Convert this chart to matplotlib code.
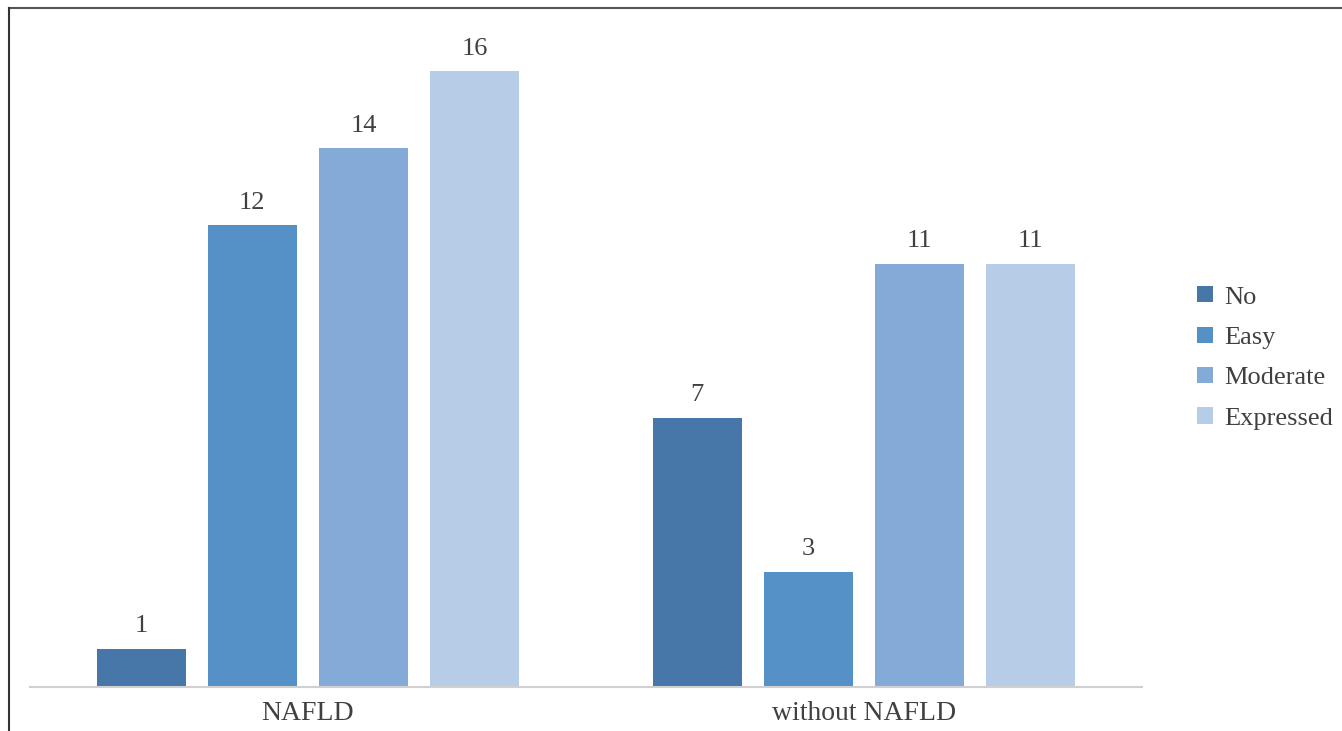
import numpy as np
import matplotlib.pyplot as plt
from matplotlib.lines import Line2D

# Data
groups = ['NAFLD', 'without NAFLD']
series = ['No', 'Easy', 'Moderate', 'Expressed']
values = {
    'No':        [1, 7],
    'Easy':      [12, 3],
    'Moderate':  [14, 11],
    'Expressed': [16, 11],
}
colors = ['#4677a8', '#5590c6', '#84abd8', '#b7cce6']

plt.rcParams['font.family'] = ['Liberation Serif', 'DejaVu Serif']
text_color = '#404040'

W, H = 1342, 731
fig = plt.figure(figsize=(W / 100, H / 100), dpi=100)
ax = fig.add_axes([30 / W, (H - 687) / H, 1112 / W, (687 - 8) / H])

x = np.arange(len(groups))
step = 0.2
width = 0.16
for i, (name, c) in enumerate(zip(series, colors)):
    pos = x + (i - 1.5) * step
    bars = ax.bar(pos, values[name], width=width, color=c, label=name)
    ax.bar_label(bars, padding=8, fontsize=19, color=text_color)

ax.set_xlim(-0.5, 1.5)
ax.set_ylim(0, (687 - 8) / 38.5)
ax.set_xticks(x)
ax.set_xticklabels(groups, fontsize=20, color=text_color)
ax.tick_params(axis='x', length=0, pad=10)
ax.set_yticks([])
for s in ['top', 'right', 'left']:
    ax.spines[s].set_visible(False)
ax.spines['bottom'].set_color('#d0d0d0')
ax.spines['bottom'].set_linewidth(1.5)

leg = fig.legend(loc='center left', bbox_to_anchor=(1184 / W, (H - 358) / H),
                 frameon=False, fontsize=19, handlelength=0.58, handleheight=0.58,
                 handletextpad=0.45, labelspacing=0.68, borderpad=0)
for t in leg.get_texts():
    t.set_color(text_color)

# thin frame on top and left edge
fig.add_artist(Line2D([8.5 / W, 1], [1 - 7.5 / H, 1 - 7.5 / H], color='#555555', lw=1.5))
fig.add_artist(Line2D([8.5 / W, 8.5 / W], [0, 1 - 7.5 / H], color='#333333', lw=1.5))

fig.savefig('out.png', dpi=100)
